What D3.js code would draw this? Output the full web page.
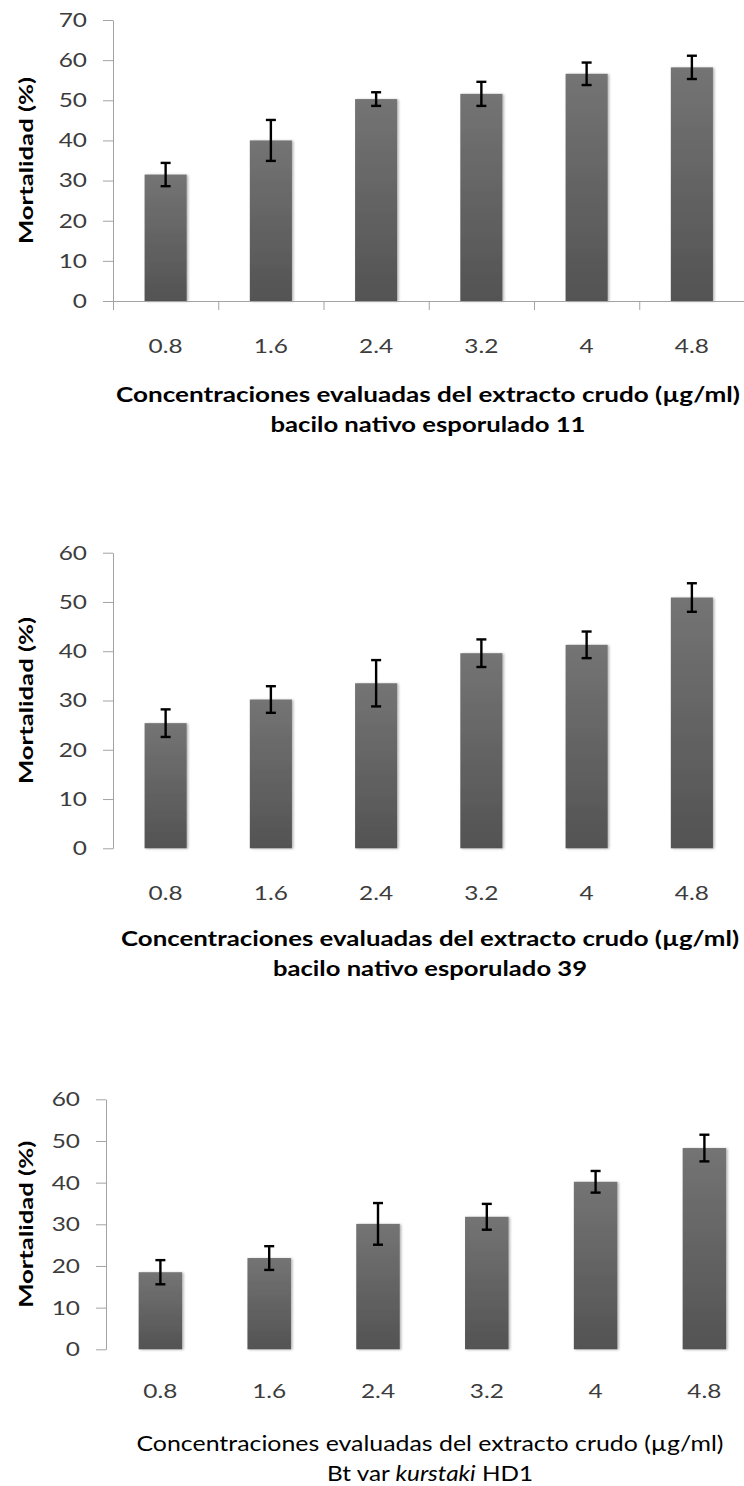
<!DOCTYPE html>
<html>
<head>
<meta charset="utf-8">
<script src="https://cdn.jsdelivr.net/npm/d3@7"></script>
<style>
  body { margin: 0; background: #fff; }
  svg { display: block; }
  text { font-family: Lato, "Open Sans", sans-serif; }
</style>
</head>
<body>
<svg id="chart" width="744" height="1486"></svg>
<script>
'use strict';

// concentrations of crude extract (µg/ml)
var concentrations = ['0.8', '1.6', '2.4', '3.2', '4', '4.8'];

// mortality (%) and error, one pair per strain
var mortality11 = [31.5, 40.0, 50.3, 51.6, 56.6, 58.2];
var error11 = [2.9, 5.1, 1.7, 3.0, 2.8, 2.9];

var mortality39 = [25.4, 30.2, 33.5, 39.6, 41.3, 50.9];
var error39 = [2.8, 2.7, 4.7, 2.8, 2.7, 2.9];

var mortalityHD1 = [18.5, 21.9, 30.1, 31.8, 40.2, 48.3];
var errorHD1 = [2.9, 2.85, 5.0, 3.1, 2.6, 3.2];

var yTicks11 = [0, 10, 20, 30, 40, 50, 60, 70];
var yTicks39 = [0, 10, 20, 30, 40, 50, 60];
var yTicksHD1 = [0, 10, 20, 30, 40, 50, 60];

var yTitle = 'Mortalidad (%)';
var xTitle = 'Concentraciones evaluadas del extracto crudo (µg/ml)';

var svg = d3.select('svg');
var defs = svg.append('defs');

var grad = defs.append('linearGradient')
    .attr('id', 'bar-fill')
    .attr('x1', 0).attr('y1', 0)
    .attr('x2', 0).attr('y2', 1);
grad.append('stop').attr('offset', '0%').attr('stop-color', '#747474');
grad.append('stop').attr('offset', '100%').attr('stop-color', '#535353');

var shadow = defs.append('filter')
    .attr('id', 'bar-shadow')
    .attr('x', '-20%').attr('y', '-5%')
    .attr('width', '150%').attr('height', '110%');
shadow.append('feDropShadow')
    .attr('dx', 1.5).attr('dy', 0.5)
    .attr('stdDeviation', 1.3)
    .attr('flood-color', '#000')
    .attr('flood-opacity', 0.3);

// stretch a text along its own direction
function stretch(sel, k) {
    sel.each(function() {
        var w = this.getComputedTextLength();
        d3.select(this)
            .attr('textLength', w * k)
            .attr('lengthAdjust', 'spacingAndGlyphs');
    });
}

function fit(sel, width) {
    sel.attr('textLength', width).attr('lengthAdjust', 'spacingAndGlyphs');
}

function drawPanel(id, layout, values, errors, yTicks, subtitle) {
    var n = concentrations.length;
    var right = layout.left + n * layout.band;

    var g = svg.append('g').attr('id', id);

    var x = d3.scaleBand()
        .domain(concentrations)
        .range([layout.left, right])
        .paddingInner(0.6)
        .paddingOuter(0.3);

    var y = d3.scaleLinear()
        .domain([0, d3.max(yTicks)])
        .range([layout.bottom, layout.top]);

    var cut = 'clip-' + id;
    defs.append('clipPath').attr('id', cut)
        .append('rect')
        .attr('x', 0).attr('y', layout.top - 20)
        .attr('width', layout.axisEnd).attr('height', layout.bottom - layout.top + 40);

    //bars
    g.append('g')
        .selectAll('rect')
        .data(values)
        .enter()
        .append('rect')
        .attr('x', function(d, i) { return x(concentrations[i]); })
        .attr('y', function(d) { return y(d); })
        .attr('width', x.bandwidth())
        .attr('height', function(d) { return y(0) - y(d); })
        .attr('fill', 'url(#bar-fill)')
        .attr('filter', 'url(#bar-shadow)');

    //boundary ticks on x axis
    var slots = d3.scaleLinear().domain([0, n]).range([layout.left, right]);
    var axisSlots = d3.axisBottom(slots)
        .tickValues(d3.range(n + 1))
        .tickFormat('')
        .tickSize(9)
        .tickSizeOuter(0);
    g.append('g')
        .attr('class', 'axisX')
        .attr('clip-path', 'url(#' + cut + ')')
        .attr('transform', 'translate(0,' + layout.bottom + ')')
        .call(axisSlots);

    //category labels
    var axisLabels = d3.axisBottom(x).tickSize(0);
    var labels = g.append('g')
        .attr('class', 'axisLabels')
        .attr('transform', 'translate(0,' + layout.bottom + ')')
        .call(axisLabels);
    labels.select('.domain').remove();
    labels.selectAll('text')
        .attr('y', layout.labelOffset)
        .attr('dy', 0)
        .attr('font-size', 20)
        .attr('font-family', 'Lato')
        .attr('fill', '#3c3c3c')
        .call(stretch, 1.22);

    //y axis
    var axisY = d3.axisLeft(y)
        .tickValues(yTicks)
        .tickSize(10)
        .tickSizeOuter(0)
        .tickPadding(16);
    var ay = g.append('g')
        .attr('class', 'axisY')
        .attr('transform', 'translate(' + layout.left + ',0)')
        .call(axisY);
    ay.selectAll('text')
        .attr('font-size', 20)
        .attr('font-family', 'Lato')
        .attr('fill', '#3c3c3c')
        .call(stretch, 1.22);

    g.selectAll('.domain').attr('stroke', '#a3a3a3');
    g.selectAll('.tick line').attr('stroke', '#a3a3a3');

    //error bars
    var eb = g.append('g').attr('class', 'errors')
        .attr('stroke', '#000')
        .attr('stroke-width', 2.4)
        .attr('fill', 'none');
    values.forEach(function(v, i) {
        var cx = x(concentrations[i]) + x.bandwidth() / 2;
        var hi = y(v + errors[i]);
        var lo = y(v - errors[i]);
        eb.append('line').attr('x1', cx).attr('x2', cx).attr('y1', hi).attr('y2', lo);
        eb.append('line').attr('x1', cx - 5).attr('x2', cx + 5).attr('y1', hi).attr('y2', hi);
        eb.append('line').attr('x1', cx - 5).attr('x2', cx + 5).attr('y1', lo).attr('y2', lo);
    });

    //y title
    g.append('text')
        .attr('transform', 'translate(33,' + (layout.top + layout.bottom) / 2 + ') rotate(-90)')
        .attr('text-anchor', 'middle')
        .attr('font-size', 19)
        .attr('font-weight', 'bold')
        .attr('fill', '#000')
        .text(yTitle)
        .call(fit, 167);

    //x title, two lines
    g.append('text')
        .attr('x', layout.titleX)
        .attr('y', layout.titleY)
        .attr('text-anchor', 'middle')
        .attr('font-size', 21)
        .attr('font-weight', layout.titleWeight)
        .attr('fill', '#000')
        .text(xTitle)
        .call(fit, layout.titleWidth);

    var sub = g.append('text')
        .attr('x', layout.titleX)
        .attr('y', layout.titleY + 30)
        .attr('text-anchor', 'middle')
        .attr('font-size', 21)
        .attr('font-weight', layout.titleWeight)
        .attr('fill', '#000');
    subtitle.forEach(function(part) {
        sub.append('tspan')
            .attr('font-style', part.italic ? 'italic' : 'normal')
            .text(part.text);
    });
    sub.call(fit, layout.subWidth);
}

drawPanel('strain11', {
    left: 113, band: 105.25, axisEnd: 744, top: 20, bottom: 301,
    labelOffset: 52, titleX: 428, titleY: 402, titleWidth: 624, subWidth: 315, titleWeight: 'bold'
}, mortality11, error11, yTicks11, [{ text: 'bacilo nativo esporulado 11' }]);

drawPanel('strain39', {
    left: 113, band: 105.25, axisEnd: 744, top: 552.7, bottom: 848.3,
    labelOffset: 52, titleX: 430, titleY: 946, titleWidth: 618, subWidth: 314, titleWeight: 'bold'
}, mortality39, error39, yTicks39, [{ text: 'bacilo nativo esporulado 39' }]);

drawPanel('strainHD1', {
    left: 106, band: 108.8, axisEnd: 735, top: 1099.3, bottom: 1349.3,
    labelOffset: 49, titleX: 430, titleY: 1451, titleWidth: 587, subWidth: 206, titleWeight: 'normal'
}, mortalityHD1, errorHD1, yTicksHD1, [
    { text: 'Bt var ' },
    { text: 'kurstaki', italic: true },
    { text: ' HD1' }
]);
</script>
</body>
</html>
